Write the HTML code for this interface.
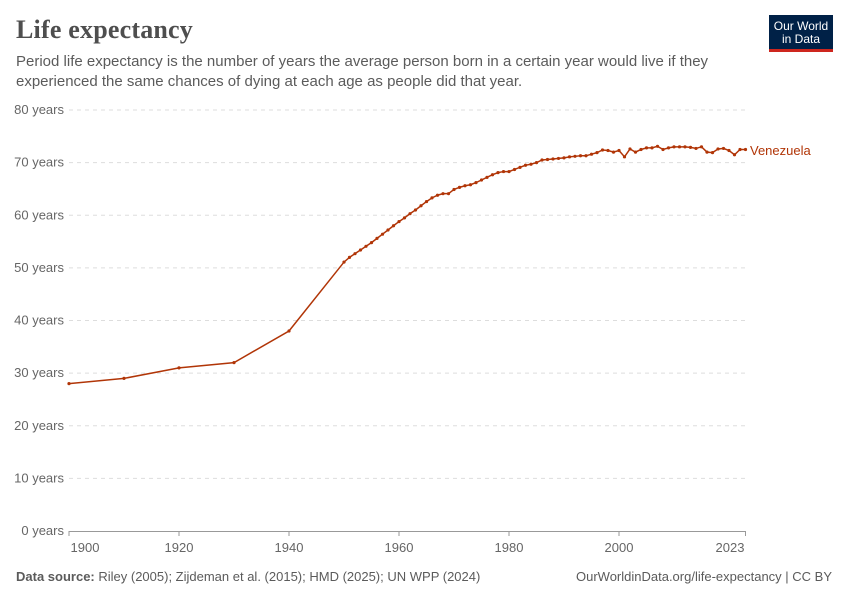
<!DOCTYPE html>
<html><head><meta charset="utf-8"><style>
body{margin:0;background:#fff;font-family:"Liberation Sans",sans-serif;}
#w{position:relative;width:850px;height:600px;overflow:hidden}
h1{position:absolute;left:16px;top:15px;margin:0;font-family:"Liberation Serif",serif;font-size:26px;font-weight:bold;color:#4e4e4e;letter-spacing:0.2px}
.sub{position:absolute;left:16px;top:52px;width:720px;font-size:15px;line-height:20px;color:#5b5b5b}
.logo{position:absolute;left:769px;top:15px;width:64px;height:37px;background:#002147;border-bottom:3px solid #ce261e;color:#fff;font-size:12px;line-height:13px;text-align:center;padding-top:5px;box-sizing:border-box}
.foot{position:absolute;top:569px;font-size:13px;color:#5b5b5b}
</style></head><body><div id="w">
<h1>Life expectancy</h1>
<div class="sub">Period life expectancy is the number of years the average person born in a certain year would live if they experienced the same chances of dying at each age as people did that year.</div>
<div class="logo">Our World<br>in Data</div>
<svg id="c" width="850" height="600" style="position:absolute;left:0;top:0"></svg>
<div class="foot" style="left:16px"><b>Data source:</b> Riley (2005); Zijdeman et al. (2015); HMD (2025); UN WPP (2024)</div>
<div class="foot" style="right:18px">OurWorldinData.org/life-expectancy | CC BY</div>
</div>
<script>
var s='';function X(y){return 69+(y-1900)*5.5}function Y(v){return 531-v*5.2625}
for(var i=0;i<=8;i++){var y=Y(i*10);
 if(i>0)s+='<line x1="69" x2="745" y1="'+y+'" y2="'+y+'" stroke="#ddd" stroke-dasharray="4,4"/>';
 s+='<text x="64" y="'+(y+4)+'" text-anchor="end" font-size="13" fill="#666">'+(i*10)+' years</text>';}
s+='<line x1="69" x2="745" y1="531.5" y2="531.5" stroke="#999"/>';
var tk=[[1900,85],[1920,179],[1940,289],[1960,399],[1980,509],[2000,619],[2023,730]];
tk.forEach(function(t){s+='<text x="'+t[1]+'" y="552" text-anchor="middle" font-size="13" fill="#666">'+t[0]+'</text>';});
[1900,1920,1940,1960,1980,2000,2023].forEach(function(y){s+='<line x1="'+X(y)+'" x2="'+X(y)+'" y1="531" y2="536" stroke="#999"/>';});
var d=[[1900,28],[1910,29],[1920,31],[1930,32],[1940,38]];
var v=[51.1,52,52.7,53.4,54.1,54.8,55.6,56.4,57.2,58,58.8,59.5,60.3,61,61.8,62.6,63.3,63.8,64.1,64.1,64.9,65.3,65.6,65.8,66.2,66.7,67.2,67.7,68.1,68.3,68.3,68.7,69.1,69.5,69.7,70,70.5,70.6,70.7,70.8,70.9,71.1,71.2,71.3,71.3,71.6,71.9,72.4,72.3,72,72.3,71.1,72.6,72,72.5,72.8,72.8,73.1,72.5,72.8,73,73,73,72.9,72.7,73,72,71.9,72.6,72.7,72.3,71.5,72.5,72.5];
v.forEach(function(a,i){d.push([1950+i,a]);});
s+='<polyline fill="none" stroke="#b13507" stroke-width="1.5" points="'+d.map(function(p){return X(p[0])+','+Y(p[1])}).join(' ')+'"/>';
d.forEach(function(p){s+='<circle cx="'+X(p[0])+'" cy="'+Y(p[1])+'" r="1.6" fill="#b13507"/>';});
s+='<text x="750" y="155" font-size="13" fill="#b13507">Venezuela</text>';
document.getElementById('c').innerHTML=s;
</script></body></html>
